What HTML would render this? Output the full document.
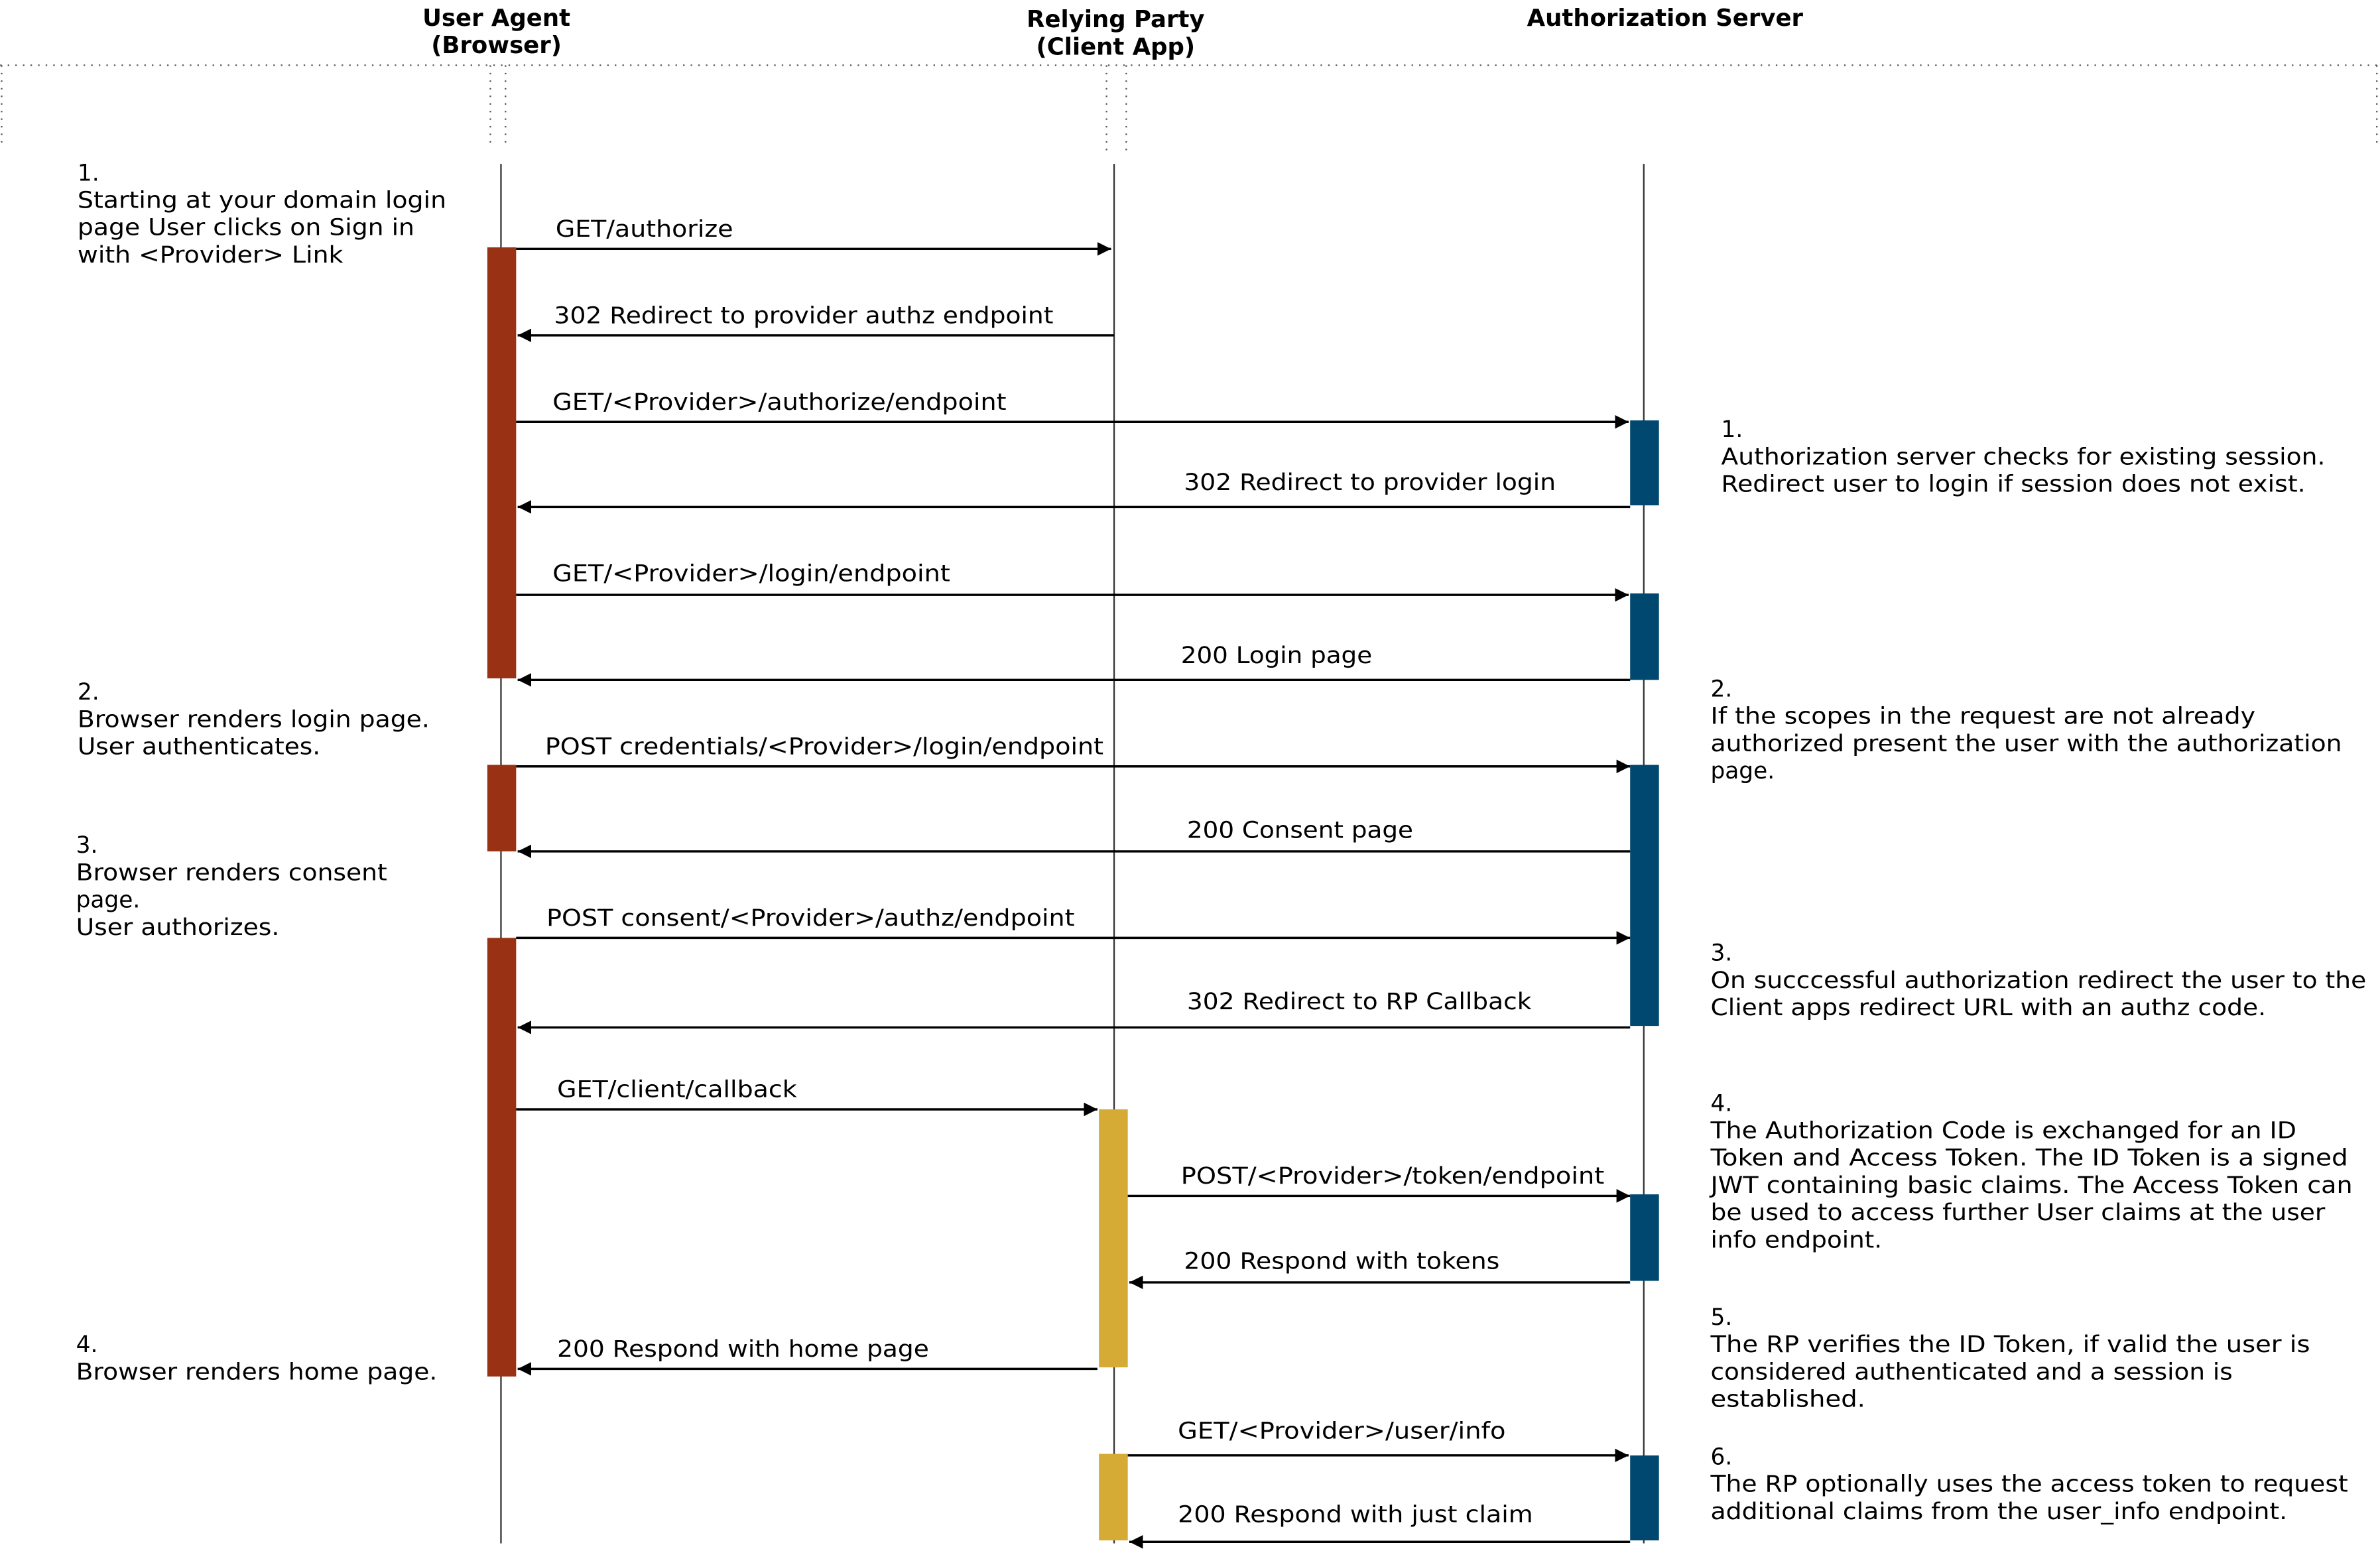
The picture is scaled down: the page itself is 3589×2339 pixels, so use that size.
<!DOCTYPE html>
<html><head><meta charset="utf-8"><style>
html,body{margin:0;padding:0;background:#fff}
svg{display:block}
text{font-family:"DejaVu Sans","Liberation Sans",sans-serif;font-size:15px;fill:#000}
.h{font-weight:bold;font-size:15.5px}
</style></head><body>
<svg width="3589" height="2339" viewBox="0 0 1568 1022" xmlns="http://www.w3.org/2000/svg">
<defs><marker id="a" markerWidth="10" markerHeight="10" refX="9" refY="5" orient="auto" markerUnits="userSpaceOnUse"><path d="M0,0.5 L9,5 L0,9.5 Z" fill="#000"/></marker></defs>
<rect width="1568" height="1022" fill="#fff"/>
<g class="h" text-anchor="middle">
<text class="h" x="327" y="17">User Agent</text><text class="h" x="327" y="35">(Browser)</text>
<text class="h" x="735" y="18">Relying Party</text><text class="h" x="735" y="36">(Client App)</text>
<text class="h" x="1097" y="17">Authorization Server</text>
</g>
<g stroke="#555" stroke-width="1" stroke-dasharray="1,4" fill="none">
<line x1="0" y1="43" x2="1568" y2="43"/>
<line x1="1" y1="43" x2="1" y2="98"/><line x1="323" y1="43" x2="323" y2="95"/><line x1="333" y1="43" x2="333" y2="95"/>
<line x1="729" y1="43" x2="729" y2="100"/><line x1="742" y1="43" x2="742" y2="100"/><line x1="1566" y1="43" x2="1566" y2="98"/>
</g>
<g stroke="#333" stroke-width="1"><line x1="330" y1="108" x2="330" y2="1017"/><line x1="734" y1="108" x2="734" y2="1017"/><line x1="1083" y1="108" x2="1083" y2="1017"/></g>
<g fill="#993214"><rect x="321" y="163" width="19" height="284"/><rect x="321" y="504" width="19" height="57"/><rect x="321" y="618" width="19" height="289"/></g>
<g fill="#D5AB35"><rect x="724" y="731" width="19" height="170"/><rect x="724" y="958" width="19" height="57"/></g>
<g fill="#004870"><rect x="1074" y="277" width="19" height="56"/><rect x="1074" y="391" width="19" height="57"/><rect x="1074" y="504" width="19" height="172"/><rect x="1074" y="787" width="19" height="57"/><rect x="1074" y="959" width="19" height="56"/></g>
<g stroke="#000" stroke-width="1.5" marker-end="url(#a)">
<line x1="340" y1="164" x2="732" y2="164"/>
<line x1="734" y1="221" x2="341" y2="221"/>
<line x1="340" y1="278" x2="1073" y2="278"/>
<line x1="1074" y1="334" x2="341" y2="334"/>
<line x1="340" y1="392" x2="1073" y2="392"/>
<line x1="1074" y1="448" x2="341" y2="448"/>
<line x1="340" y1="505" x2="1074" y2="505"/>
<line x1="1074" y1="561" x2="341" y2="561"/>
<line x1="340" y1="618" x2="1074" y2="618"/>
<line x1="1074" y1="677" x2="341" y2="677"/>
<line x1="340" y1="731" x2="723" y2="731"/>
<line x1="743" y1="788" x2="1074" y2="788"/>
<line x1="1074" y1="845" x2="744" y2="845"/>
<line x1="723" y1="902" x2="341" y2="902"/>
<line x1="743" y1="959" x2="1073" y2="959"/>
<line x1="1074" y1="1016" x2="744" y2="1016"/>
</g>
<g lengthAdjust="spacingAndGlyphs">
<text x="366" y="156" textLength="117" lengthAdjust="spacingAndGlyphs">GET/authorize</text>
<text x="365" y="213" textLength="329" lengthAdjust="spacingAndGlyphs">302 Redirect to provider authz endpoint</text>
<text x="364" y="270" textLength="299" lengthAdjust="spacingAndGlyphs">GET/&lt;Provider&gt;/authorize/endpoint</text>
<text x="780" y="323" textLength="245" lengthAdjust="spacingAndGlyphs">302 Redirect to provider login</text>
<text x="364" y="383" textLength="262" lengthAdjust="spacingAndGlyphs">GET/&lt;Provider&gt;/login/endpoint</text>
<text x="778" y="437" textLength="126" lengthAdjust="spacingAndGlyphs">200 Login page</text>
<text x="359" y="497" textLength="368" lengthAdjust="spacingAndGlyphs">POST credentials/&lt;Provider&gt;/login/endpoint</text>
<text x="782" y="552" textLength="149" lengthAdjust="spacingAndGlyphs">200 Consent page</text>
<text x="360" y="610" textLength="348" lengthAdjust="spacingAndGlyphs">POST consent/&lt;Provider&gt;/authz/endpoint</text>
<text x="782" y="665" textLength="227" lengthAdjust="spacingAndGlyphs">302 Redirect to RP Callback</text>
<text x="367" y="723" textLength="158" lengthAdjust="spacingAndGlyphs">GET/client/callback</text>
<text x="778" y="780" textLength="279" lengthAdjust="spacingAndGlyphs">POST/&lt;Provider&gt;/token/endpoint</text>
<text x="780" y="836" textLength="208" lengthAdjust="spacingAndGlyphs">200 Respond with tokens</text>
<text x="367" y="894" textLength="245" lengthAdjust="spacingAndGlyphs">200 Respond with home page</text>
<text x="776" y="948" textLength="216" lengthAdjust="spacingAndGlyphs">GET/&lt;Provider&gt;/user/info</text>
<text x="776" y="1003" textLength="234" lengthAdjust="spacingAndGlyphs">200 Respond with just claim</text>
</g>
<g>
<text x="51" y="119">1.</text>
<text x="51" y="137" textLength="243" lengthAdjust="spacingAndGlyphs">Starting at your domain login</text>
<text x="51" y="155" textLength="222" lengthAdjust="spacingAndGlyphs">page User clicks on Sign in</text>
<text x="51" y="173" textLength="175" lengthAdjust="spacingAndGlyphs">with &lt;Provider&gt; Link</text>
<text x="51" y="461">2.</text>
<text x="51" y="479" textLength="232" lengthAdjust="spacingAndGlyphs">Browser renders login page.</text>
<text x="51" y="497" textLength="160" lengthAdjust="spacingAndGlyphs">User authenticates.</text>
<text x="50" y="562">3.</text>
<text x="50" y="580" textLength="205" lengthAdjust="spacingAndGlyphs">Browser renders consent</text>
<text x="50" y="598">page.</text>
<text x="50" y="616" textLength="134" lengthAdjust="spacingAndGlyphs">User authorizes.</text>
<text x="50" y="891">4.</text>
<text x="50" y="909" textLength="238" lengthAdjust="spacingAndGlyphs">Browser renders home page.</text>

<text x="1134" y="288">1.</text>
<text x="1134" y="306" textLength="398" lengthAdjust="spacingAndGlyphs">Authorization server checks for existing session.</text>
<text x="1134" y="324" textLength="385" lengthAdjust="spacingAndGlyphs">Redirect user to login if session does not exist.</text>
<text x="1127" y="459">2.</text>
<text x="1127" y="477" textLength="359" lengthAdjust="spacingAndGlyphs">If the scopes in the request are not already</text>
<text x="1127" y="495" textLength="416" lengthAdjust="spacingAndGlyphs">authorized present the user with the authorization</text>
<text x="1127" y="513">page.</text>
<text x="1127" y="633">3.</text>
<text x="1127" y="651" textLength="432" lengthAdjust="spacingAndGlyphs">On succcessful authorization redirect the user to the</text>
<text x="1127" y="669" textLength="366" lengthAdjust="spacingAndGlyphs">Client apps redirect URL with an authz code.</text>
<text x="1127" y="732">4.</text>
<text x="1127" y="750" textLength="386" lengthAdjust="spacingAndGlyphs">The Authorization Code is exchanged for an ID</text>
<text x="1127" y="768" textLength="420" lengthAdjust="spacingAndGlyphs">Token and Access Token. The ID Token is a signed</text>
<text x="1127" y="786" textLength="423" lengthAdjust="spacingAndGlyphs">JWT containing basic claims. The Access Token can</text>
<text x="1127" y="804" textLength="405" lengthAdjust="spacingAndGlyphs">be used to access further User claims at the user</text>
<text x="1127" y="822" textLength="113" lengthAdjust="spacingAndGlyphs">info endpoint.</text>
<text x="1127" y="873">5.</text>
<text x="1127" y="891" textLength="395" lengthAdjust="spacingAndGlyphs">The RP verifies the ID Token, if valid the user is</text>
<text x="1127" y="909" textLength="344" lengthAdjust="spacingAndGlyphs">considered authenticated and a session is</text>
<text x="1127" y="927" textLength="102" lengthAdjust="spacingAndGlyphs">established.</text>
<text x="1127" y="965">6.</text>
<text x="1127" y="983" textLength="420" lengthAdjust="spacingAndGlyphs">The RP optionally uses the access token to request</text>
<text x="1127" y="1001" textLength="380" lengthAdjust="spacingAndGlyphs">additional claims from the user_info endpoint.</text>
</g>
</svg>
</body></html>
